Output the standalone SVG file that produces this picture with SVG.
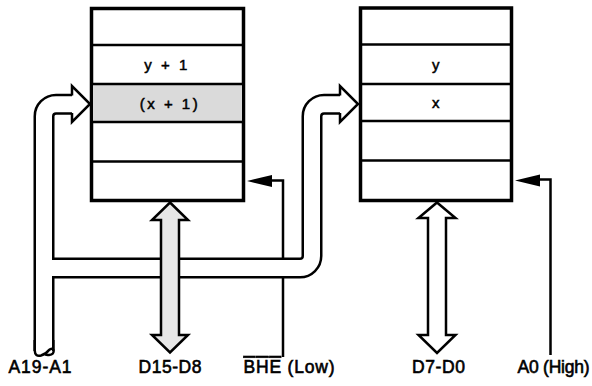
<svg xmlns="http://www.w3.org/2000/svg" width="592" height="386" viewBox="0 0 592 386">
<style>
.box{fill:#fff;stroke:#000;stroke-width:3.5}
.div{stroke:#000;stroke-width:2.5}
.cell{font-family:"Liberation Sans",Arial,sans-serif;font-size:15px;letter-spacing:2.5px;text-anchor:middle;fill:#000;stroke:#000;stroke-width:0.5}
.lbl{font-family:"Liberation Sans",Arial,sans-serif;font-size:17.5px;text-anchor:middle;fill:#000;stroke:#000;stroke-width:0.6}
.busB{fill:none;stroke:#000;stroke-width:21}
.busW{fill:none;stroke:#fff;stroke-width:16}
.ln{fill:none;stroke:#000;stroke-width:2.5}
.head{fill:#fff;stroke:#000;stroke-width:2.5;stroke-linejoin:miter}
.dat{stroke:#000;stroke-width:2.5;stroke-linejoin:miter}
</style>
<rect width="592" height="386" fill="#fff"/>
<g id="mem-odd">
  <rect class="box" x="91.5" y="8.5" width="152" height="192"/>
  <rect x="93" y="85" width="149" height="36" fill="#dadada"/>
  <line class="div" x1="92" y1="45" x2="243" y2="45"/>
  <line class="div" x1="92" y1="84" x2="243" y2="84"/>
  <line class="div" x1="92" y1="122" x2="243" y2="122"/>
  <line class="div" x1="92" y1="161.5" x2="243" y2="161.5"/>
  <text class="cell" x="167" y="70">y + 1</text>
  <text class="cell" x="170" y="109">(x + 1)</text>
</g>
<g id="mem-even">
  <rect class="box" x="360.5" y="8" width="151" height="192.5"/>
  <line class="div" x1="361" y1="44.5" x2="511" y2="44.5"/>
  <line class="div" x1="361" y1="84" x2="511" y2="84"/>
  <line class="div" x1="361" y1="121" x2="511" y2="121"/>
  <line class="div" x1="361" y1="160.5" x2="511" y2="160.5"/>
  <text class="cell" x="437" y="70">y</text>
  <text class="cell" x="437" y="108">x</text>
</g>
<g id="connectors">
  <polyline class="ln" points="283,357 283,180.5 270,180.5"/>
  <polygon points="247,181 272,175 272,187" fill="#000"/>
  <polyline class="ln" points="550.5,355 550.5,179.5 538,179.5"/>
  <polygon points="515,180.5 540,174.5 540,186.5" fill="#000"/>
  <g id="address-bus">
    <path class="busB" d="M72,104.25 H56 A12,12 0 0 0 44,116.25 V351"/>
    <path class="busB" d="M44,268 H300 A12,12 0 0 0 312,256 V116.25 A12,12 0 0 1 324,104.25 H340"/>
    <path class="busW" d="M72,104.25 H56 A12,12 0 0 0 44,116.25 V352"/>
    <path class="busW" d="M44,268 H300 A12,12 0 0 0 312,256 V116.25 A12,12 0 0 1 324,104.25 H340"/>
    <polyline class="head" points="72,95.5 72,86 90,104 72,122 72,113"/>
    <polyline class="head" points="340,95.5 340,86 358,104 340,122 340,113"/>
    <path class="ln" d="M34.75,340 V350.5 Q35,357 41,355.5 Q46,354 49,350 Q52,347.5 53.5,350 Q54.5,354.5 49,355 Q45.5,355.5 44.5,353.5"/>
    <line class="ln" x1="53.25" y1="340" x2="53.25" y2="349.5"/>
  </g>
  <polygon id="d15-d8" class="dat" fill="#e6e6e6" points="170,202.5 188,220 179,220 179,335 188,335 170,352.5 152,335 161,335 161,220 152,220"/>
  <polygon id="d7-d0" class="dat" fill="#fff" points="437,202.5 455.5,218 446,218 446,335 455.5,335 437,353 418.5,335 428,335 428,218 418.5,218"/>
</g>
<g id="labels">
  <text class="lbl" x="40" y="373" textLength="63" lengthAdjust="spacing">A19-A1</text>
  <text class="lbl" x="170" y="373" textLength="63" lengthAdjust="spacing">D15-D8</text>
  <text class="lbl" x="289" y="373" textLength="91" lengthAdjust="spacing"><tspan text-decoration="overline">BHE</tspan> (Low)</text>
  <text class="lbl" x="438.5" y="373" textLength="53" lengthAdjust="spacing">D7-D0</text>
  <text class="lbl" x="553.5" y="373" textLength="72" lengthAdjust="spacing">A0 (High)</text>
</g>
</svg>
